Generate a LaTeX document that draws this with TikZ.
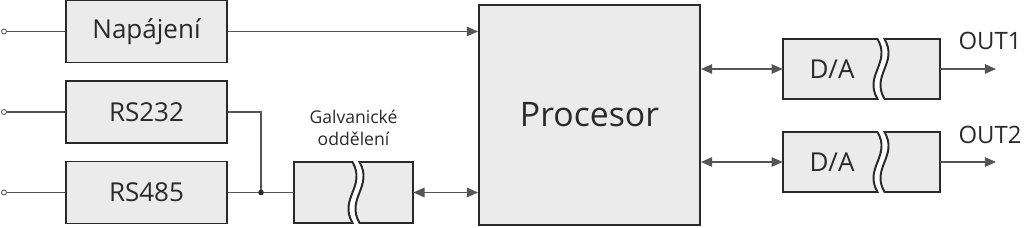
\documentclass[tikz,border=0pt]{standalone}
\usepackage{fontspec}
\setmainfont{Open Sans}
\usetikzlibrary{arrows.meta,positioning}

\definecolor{boxfill}{HTML}{EBEBEB}
\definecolor{boxline}{HTML}{2A2A2A}
\definecolor{wire}{HTML}{555555}

\tikzset{
  blok/.style={draw=boxline, fill=boxfill, line width=1.4pt, inner sep=0pt,
    minimum width=4.025cm, minimum height=1.55cm, text=boxline,
    font=\fontsize{18.5}{21}\selectfont},
  prazdny/.style={inner sep=0pt, minimum width=#1},
  spoj/.style={draw=wire, line width=0.8pt},
  sipka/.style={spoj, -{Triangle[length=2.8mm,width=2.4mm]}},
  obousm/.style={spoj, {Triangle[length=2.8mm,width=2.4mm]}-{Triangle[length=2.8mm,width=2.4mm]}},
  popis/.style={text=boxline, inner sep=0pt},
}

% box cut by a wavy gap: left, top, right, bottom, cut
\newcommand{\delenyblok}[5]{%
  \filldraw[fill=boxfill, draw=boxline, line width=1.4pt]
    ({#5-3.5},#2) -- (#1,#2) -- (#1,#4) -- ({#5-3.5},#4)
    .. controls ({#5-3.5-14},{#2+0.6*(#4-#2)}) and ({#5-3.5+14},{#2+0.4*(#4-#2)}) .. cycle;
  \filldraw[fill=boxfill, draw=boxline, line width=1.4pt]
    ({#5+3.5},#2) -- (#3,#2) -- (#3,#4) -- ({#5+3.5},#4)
    .. controls ({#5+3.5-14},{#2+0.6*(#4-#2)}) and ({#5+3.5+14},{#2+0.4*(#4-#2)}) .. cycle;
}

\begin{document}
\begin{tikzpicture}[x=0.025cm, y=-0.025cm]
  \useasboundingbox (0,0) rectangle (1024,228);

  % input blocks
  \node[blok] (napajeni) at (146.5,31.5) {Napájení};
  \node[blok] (rs232) at (146.5,112) {RS232};
  \node[blok] (rs485) at (146.5,192.5) {RS485};

  % input terminals
  \coordinate (vst1) at (4,31.5);
  \coordinate (vst2) at (4,112);
  \coordinate (vst3) at (4,192.5);
  \foreach \v/\b in {vst1/napajeni, vst2/rs232, vst3/rs485} {
    \draw[spoj] (\v) ++(2.5,0) -- (\b.west);
    \draw[wire, line width=0.6pt, fill=white] (\v) circle (2.5);
  }

  % galvanic isolation
  \delenyblok{294}{162}{413}{223}{356}
  \node[prazdny=2.975cm, minimum height=1.525cm] (galv) at (353.5,192.5) {};
  \node[popis, font=\fontsize{12.5}{16}\selectfont, align=center, above=11pt of galv]
    (galvtext) {Galvanické\\oddělení};

  % processor
  \node[blok, minimum width=5.525cm, minimum height=5.5cm,
    font=\fontsize{24}{27}\selectfont] (procesor) at (589.5,115) {Procesor};

  % D/A converters
  \delenyblok{783}{39}{940}{99}{881}
  \delenyblok{783}{132}{940}{192}{881}
  \node[prazdny=3.925cm, minimum height=1.5cm] (da1) at (861.5,69) {};
  \node[prazdny=3.925cm, minimum height=1.5cm] (da2) at (861.5,162) {};
  \node[popis, font=\fontsize{18.5}{21}\selectfont] at (832,69) {D/A};
  \node[popis, font=\fontsize{18.5}{21}\selectfont] at (832,162) {D/A};

  % outputs
  \coordinate (out1) at (996,69);
  \coordinate (out2) at (996,162);
  \node[popis, font=\fontsize{17}{20}\selectfont] (out1text) at (990,41) {OUT1};
  \node[popis, font=\fontsize{17}{20}\selectfont] (out2text) at (990,135) {OUT2};

  % connections
  \draw[sipka] (napajeni.east) -- (napajeni.east -| procesor.west);
  \coordinate (uzel) at (261,192.5);
  \draw[spoj] (rs232.east) -| (uzel);
  \draw[spoj] (rs485.east) -- (galv.west);
  \fill[boxline] (uzel) circle (2.8);
  \draw[obousm] (galv.east) -- (galv.east -| procesor.west);
  \draw[obousm] (da1.west -| procesor.east) -- (da1.west);
  \draw[obousm] (da2.west -| procesor.east) -- (da2.west);
  \draw[sipka] (da1.east) -- (out1);
  \draw[sipka] (da2.east) -- (out2);
\end{tikzpicture}
\end{document}
